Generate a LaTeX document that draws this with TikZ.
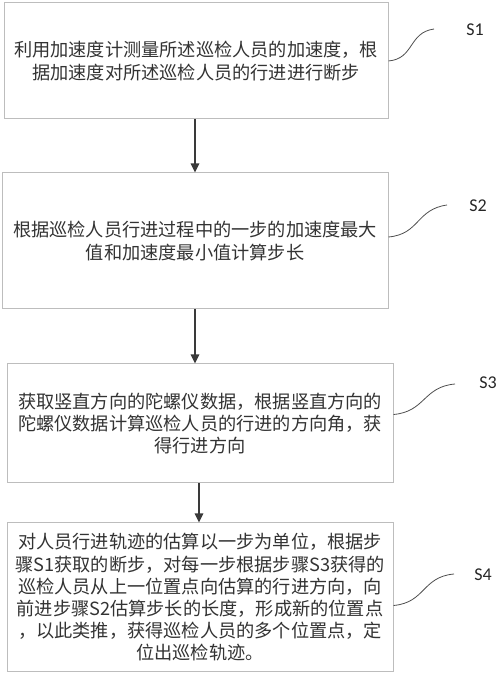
\documentclass[tikz,border=0pt]{standalone}
\usepackage{fontspec}
\setmainfont{Carlito}
\newfontfamily\cjk{Noto Sans CJK SC}
\newfontfamily\lab{Carlito}
\usetikzlibrary{arrows.meta}
\definecolor{boxline}{HTML}{BDBDBD}
\definecolor{txt}{HTML}{333333}
\definecolor{arr}{HTML}{3A3A3A}
\tikzset{
  x=1pt, y=1pt,
  stepbox/.style={draw=boxline, line width=1pt, fill=white, align=center,
    text=txt, inner sep=0pt, font=\cjk\fontsize{18.2}{22.2}\selectfont},
  flowarrow/.style={draw=arr, line width=1.4pt, -{Triangle[length=9pt,width=8.5pt]}},
  tagline/.style={draw=arr!90, line width=0.8pt},
  taglabel/.style={text=black!85, font=\lab\fontsize{18}{21}\selectfont, inner sep=0pt}
}
\begin{document}
\begin{tikzpicture}
\useasboundingbox (0,0) rectangle (500,676);
\node[stepbox, minimum width=384, minimum height=116] (b1) at (196,615)
  {利用加速度计测量所述巡检人员的加速度，根\\据加速度对所述巡检人员的行进进行断步};
\node[stepbox, minimum width=386, minimum height=136] (b2) at (195,435)
  {根据巡检人员行进过程中的一步的加速度最大\\值和加速度最小值计算步长};
\node[stepbox, minimum width=386, minimum height=119] (b3) at (200,252.5)
  {获取竖直方向的陀螺仪数据，根据竖直方向的\\陀螺仪数据计算巡检人员的行进的方向角，获\\得行进方向};
\node[stepbox, minimum width=386, minimum height=149] (b4) at (200,78.5)
  {对人员行进轨迹的估算以一步为单位，根据步\\骤S1获取的断步，对每一步根据步骤S3获得的\\巡检人员从上一位置点向估算的行进方向，向\\前进步骤S2估算步长的长度，形成新的位置点\\，以此类推，获得巡检人员的多个位置点，定\\位出巡检轨迹。};

\draw[flowarrow] (b1.south -| b2.north) -- (b2.north);
\draw[flowarrow] (b2.south) -- (b2.south |- b3.north);
\draw[flowarrow] (b3.south -| 199,0) -- (b4.north -| 199,0);

\node[taglabel] (s1) at (475,646) {S1};
\node[taglabel] (s2) at (478,470) {S2};
\node[taglabel] (s3) at (488,293) {S3};
\node[taglabel] (s4) at (483,101) {S4};

\coordinate (e1) at (434,647);
\coordinate (e2) at (447,471);
\coordinate (e3) at (455,292);
\coordinate (e4) at (454,102);

\draw[tagline] (b1.east) to[out=5,in=188,looseness=1.2] (e1);
\draw[tagline] ([yshift=4pt]b2.east) to[out=5,in=188,looseness=1.2] (e2);
\draw[tagline] ([yshift=9pt]b3.east) to[out=5,in=185,looseness=1.2] (e3);
\draw[tagline] ([yshift=-8pt]b4.east) to[out=5,in=185,looseness=1.2] (e4);
\end{tikzpicture}
\end{document}
